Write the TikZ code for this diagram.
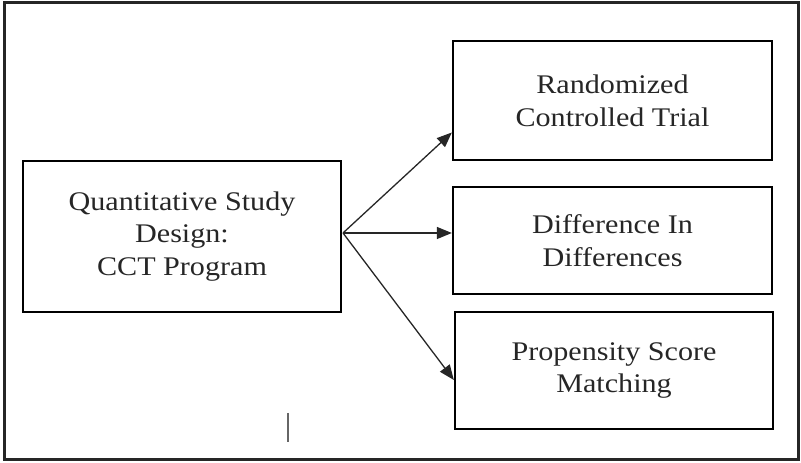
\documentclass[tikz,border=0pt]{standalone}
\usepackage{fontspec}
\setmainfont{Liberation Serif}[FakeStretch=1.12]
\usepackage{tikz}
\usetikzlibrary{positioning, arrows.meta}
\tikzset{
x=1bp, y=1bp, % one unit is one pixel of the layout
>={Triangle[length=15bp, width=12bp]}, % filled heads
design/.style={draw, line width=2.3bp, align=center, inner sep=0pt,
  text=black!85, font=\fontsize{27}{33}\selectfont}, % sets the properties for each box
link/.style={->, line width=1.3bp, black!85}, % the connectors
}

\begin{document}
\begin{tikzpicture}
        \useasboundingbox (0,0) rectangle (801,463);
        \draw[line width=3bp, black!85] (4,3) rectangle (798,460);

        \node[design, minimum width=318bp, minimum height=151bp] (qsd) at (182,226.5)
          {Quantitative Study\\Design:\\CCT Program};
        \node[design, minimum width=319bp, minimum height=119bp] (rct) at (612.5,362.5)
          {Randomized\\Controlled Trial};
        \node[design, minimum width=319bp, minimum height=107bp] (did) at (612.5,222.5)
          {Difference In\\Differences};
        \node[design, minimum width=318bp, minimum height=117bp] (psm) at (614,92.5)
          {Propensity Score\\Matching};

        \coordinate (fork) at (343,230);
        \draw[link] (fork) -- ([yshift=-32bp]rct.west);
        \draw[link] (fork) -- (did.west |- fork);
        \draw[link] (fork) -- ([yshift=-9.5bp]psm.west);

        \draw[line width=1.5bp, black!60] (288,50) -- (288,21);
      \end{tikzpicture}
\end{document}
